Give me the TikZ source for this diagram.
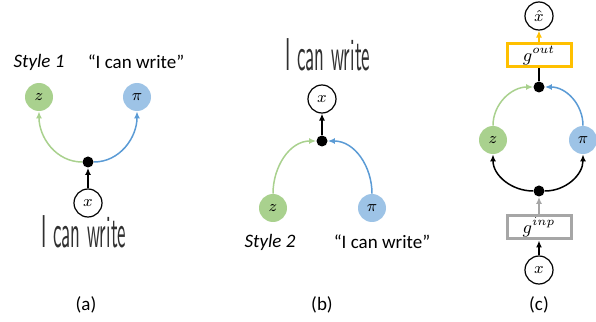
\documentclass[tikz,border=0pt]{standalone}
\usepackage{amsmath}
\usepackage{xcolor}
\usepackage{fontspec}
\setmainfont{Carlito}
\usepackage{tikz}
\usetikzlibrary{positioning,calc,arrows.meta}

\definecolor{zfill}{HTML}{A9D18E}
\definecolor{pifill}{HTML}{9DC3E6}
\definecolor{zline}{HTML}{A9D18E}
\definecolor{piline}{HTML}{5B9BD5}
\definecolor{outcol}{HTML}{FFC000}
\definecolor{inpcol}{HTML}{A6A6A6}
\definecolor{inkcol}{HTML}{303030}

\newcommand{\handtext}[1]{\textcolor{inkcol}{\scalebox{0.95}[2.3]{\sffamily\fontsize{10}{12}\selectfont #1}}}

\begin{document}
\begin{tikzpicture}[
				x=0.5pt, y=0.5pt,
				var/.style={circle, inner sep=0pt, minimum size=14pt, font=\footnotesize},
				obs/.style={var, draw=black, line width=0.6pt},
				zvar/.style={var, fill=zfill},
				pivar/.style={var, fill=pifill},
				joint/.style={circle, fill=black, inner sep=0pt, minimum size=5.5pt},
				gbox/.style={rectangle, fill=white, line width=1.5pt, minimum width=32pt, minimum height=11.5pt, inner sep=0pt, font=\small},
				lbl/.style={font=\fontsize{9.5}{11}\selectfont},
				conn/.style={line width=0.75pt, -{Latex[length=3.5pt,width=3pt]}}
				]
				\useasboundingbox (0,0) rectangle (596,322);
				
				% (a) style 1: x -> (z, pi)
				\node[lbl, font=\fontsize{9.5}{11}\selectfont\itshape] (style1) at (39,260) {Style 1};
				\node[lbl] (quote1) at (136,260) {“I can write”};
				\node[zvar] (z1) at (39,225) {$z$};
				\node[pivar] (pi1) at (137,225) {$\pi$};
				\node[joint] (dot1) at (88,160) {};
				\node[obs] (x1) at (88,119) {$x$};
				\node (hand1) at (84,90) {\handtext{I can write}};
				\node[lbl] (laba) at (86,17) {(a)};
				
				\draw[conn] (x1) -- (dot1);
				\draw[conn, zline] (dot1.west) to[out=180, in=-90] (z1.south);
				\draw[conn, piline] (dot1.east) to[out=0, in=-90] (pi1.south);
				
				% (b) style 2: (z, pi) -> x
				\node (hand2) at (328,267) {\handtext{I can write}};
				\node[obs] (x2) at (322,223) {$x$};
				\node[joint] (dot2) at (322,181) {};
				\node[zvar] (z2) at (273,114) {$z$};
				\node[pivar] (pi2) at (372,114) {$\pi$};
				\node[lbl, font=\fontsize{9.5}{11}\selectfont\itshape] (style2) at (270,80) {Style 2};
				\node[lbl] (quote2) at (382,80) {“I can write”};
				\node[lbl] (labb) at (322,17) {(b)};
				
				\draw[conn] (dot2) -- (x2);
				\draw[conn, zline] (z2.north) to[out=90, in=180] (dot2.west);
				\draw[conn, piline] (pi2.north) to[out=90, in=0] (dot2.east);
				
				% (c) x -> g^inp -> (z, pi) -> g^out -> x hat
				\node[obs] (xhat) at (539,306) {$\hat{x}$};
				\node[gbox, draw=outcol] (gout) at (539,266.5) {$g^{out}$};
				\node[joint] (dot3) at (539,235) {};
				\node[zvar] (z3) at (493,182) {$z$};
				\node[pivar] (pi3) at (583,182) {$\pi$};
				\node[joint] (dot4) at (539,131) {};
				\node[gbox, draw=inpcol] (ginp) at (539,94.5) {$g^{inp}$};
				\node[obs] (x3) at (539,52) {$x$};
				\node[lbl] (labc) at (539,17) {(c)};
				
				\draw[conn] (x3) -- (ginp);
				\draw[conn, inpcol] (ginp) -- (dot4);
				\draw[conn] (dot4.west) to[out=180, in=-90] (z3.south);
				\draw[conn] (dot4.east) to[out=0, in=-90] (pi3.south);
				\draw[conn, zline] (z3.north) to[out=90, in=180] (dot3.west);
				\draw[conn, piline] (pi3.north) to[out=90, in=0] (dot3.east);
				\draw[line width=0.75pt] (dot3) -- (gout);
				\draw[conn, outcol] (gout) -- (xhat);
				
			\end{tikzpicture}
\end{document}
